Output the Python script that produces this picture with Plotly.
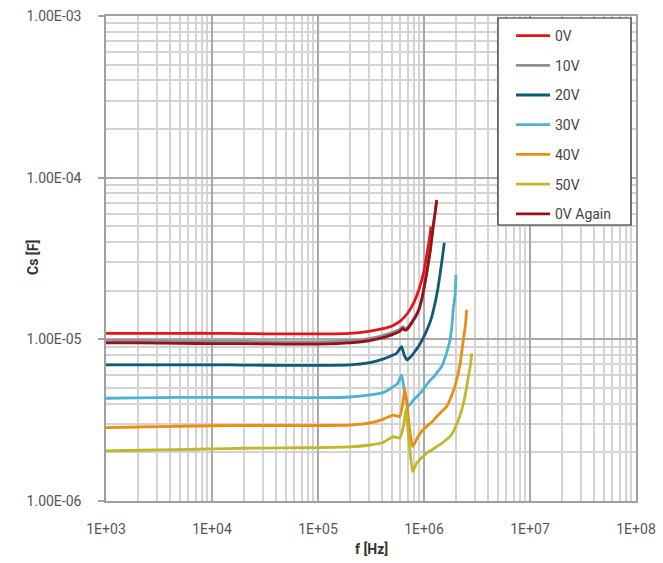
import plotly.graph_objects as go

# Frequency sweeps (Hz) and series capacitance Cs (F) for each DC bias level
f_0v = [1e3, 2e3, 5e3, 1e4, 2e4, 5e4, 1e5, 2e5, 3e5, 4e5, 5e5, 6e5, 7e5, 8e5, 9e5,
        1e6, 1.06e6, 1.12e6, 1.164e6]
cs_0v = [1.09e-5, 1.09e-5, 1.09e-5, 1.09e-5, 1.085e-5, 1.08e-5, 1.08e-5, 1.09e-5,
         1.12e-5, 1.16e-5, 1.21e-5, 1.3e-5, 1.45e-5, 1.68e-5, 2.05e-5, 2.65e-5,
         3.3e-5, 4.1e-5, 4.98e-5]

f_10v = [1e3, 2e3, 5e3, 1e4, 2e4, 5e4, 1e5, 2e5, 3e5, 4e5, 5e5, 5.9e5, 6.3e5, 6.6e5,
         7e5, 8e5, 8.8e5, 9.5e5, 1.06e6, 1.15e6, 1.22e6, 1.3e6]
cs_10v = [9.8e-6, 9.8e-6, 9.75e-6, 9.7e-6, 9.7e-6, 9.65e-6, 9.65e-6, 9.8e-6, 1.01e-5,
          1.05e-5, 1.1e-5, 1.15e-5, 1.2e-5, 1.17e-5, 1.19e-5, 1.34e-5, 1.5e-5,
          1.77e-5, 2.58e-5, 3.62e-5, 5.0e-5, 6.8e-5]

f_20v = [1e3, 2e3, 5e3, 1e4, 2e4, 5e4, 1e5, 2e5, 3e5, 4.1e5, 4.8e5, 5.5e5, 6.15e5,
         6.5e5, 6.9e5, 7.5e5, 8.3e5, 9.2e5, 1.04e6, 1.16e6, 1.27e6, 1.35e6, 1.42e6,
         1.49e6, 1.555e6]
cs_20v = [6.95e-6, 6.95e-6, 6.95e-6, 6.95e-6, 6.93e-6, 6.9e-6, 6.9e-6, 6.95e-6,
          7.15e-6, 7.55e-6, 7.85e-6, 8.2e-6, 9.0e-6, 8.0e-6, 7.45e-6, 7.8e-6, 8.5e-6,
          9.4e-6, 1.1e-5, 1.32e-5, 1.67e-5, 2.05e-5, 2.56e-5, 3.2e-5, 3.96e-5]

f_30v = [1e3, 2e3, 5e3, 1e4, 2e4, 5e4, 1e5, 2e5, 3.1e5, 4.1e5, 4.8e5, 5.6e5, 6.15e5,
         6.5e5, 7.1e5, 7.8e5, 8.5e5, 9.5e5, 1.05e6, 1.15e6, 1.25e6, 1.32e6, 1.47e6,
         1.6e6, 1.76e6, 1.83e6, 1.89e6, 1.96e6, 2.0e6]
cs_30v = [4.32e-6, 4.35e-6, 4.37e-6, 4.38e-6, 4.38e-6, 4.37e-6, 4.36e-6, 4.4e-6,
          4.53e-6, 4.68e-6, 4.95e-6, 5.3e-6, 6.0e-6, 4.9e-6, 3.85e-6, 4.15e-6,
          4.4e-6, 4.75e-6, 5.2e-6, 5.6e-6, 5.9e-6, 6.2e-6, 6.8e-6, 7.9e-6, 9.9e-6,
          1.2e-5, 1.55e-5, 1.85e-5, 2.5e-5]

f_40v = [1e3, 2e3, 5e3, 1e4, 2e4, 5e4, 1e5, 2e5, 3.1e5, 4.1e5, 5.1e5, 5.9e5, 6.3e5,
         6.6e5, 7.0e5, 7.4e5, 7.8e5, 8.5e5, 9.2e5, 1.0e6, 1.1e6, 1.2e6, 1.32e6,
         1.45e6, 1.64e6, 1.85e6, 2.03e6, 2.2e6, 2.35e6, 2.45e6, 2.53e6]
cs_40v = [2.84e-6, 2.87e-6, 2.9e-6, 2.92e-6, 2.93e-6, 2.93e-6, 2.93e-6, 2.95e-6,
          3.04e-6, 3.2e-6, 3.4e-6, 3.33e-6, 4.0e-6, 4.95e-6, 3.6e-6, 2.6e-6,
          2.17e-6, 2.4e-6, 2.63e-6, 2.8e-6, 2.96e-6, 3.1e-6, 3.33e-6, 3.55e-6,
          3.85e-6, 4.6e-6, 5.6e-6, 7.2e-6, 9.9e-6, 1.2e-5, 1.52e-5]

f_50v = [1e3, 2e3, 5e3, 1e4, 2e4, 5e4, 1e5, 2e5, 3.1e5, 4.1e5, 5.1e5, 5.9e5, 6.4e5,
         6.75e5, 7.2e5, 7.8e5, 8.5e5, 9.5e5, 1.06e6, 1.2e6, 1.32e6, 1.5e6, 1.76e6,
         2.0e6, 2.27e6, 2.45e6, 2.62e6, 2.75e6, 2.82e6]
cs_50v = [2.04e-6, 2.06e-6, 2.08e-6, 2.1e-6, 2.12e-6, 2.13e-6, 2.14e-6, 2.16e-6,
          2.22e-6, 2.3e-6, 2.5e-6, 2.45e-6, 2.9e-6, 3.7e-6, 2.4e-6, 1.52e-6,
          1.71e-6, 1.85e-6, 1.98e-6, 2.08e-6, 2.17e-6, 2.3e-6, 2.5e-6, 2.9e-6,
          3.66e-6, 4.5e-6, 5.88e-6, 7.0e-6, 8.2e-6]

f_0v_again = [1e3, 2e3, 5e3, 1e4, 2e4, 5e4, 1e5, 2e5, 3e5, 4e5, 5e5, 5.9e5, 6.3e5,
              6.6e5, 7e5, 8e5, 8.8e5, 9.5e5, 1.06e6, 1.15e6, 1.22e6, 1.28e6, 1.318e6]
cs_0v_again = [9.5e-6, 9.5e-6, 9.45e-6, 9.4e-6, 9.4e-6, 9.35e-6, 9.35e-6, 9.5e-6,
               9.8e-6, 1.02e-5, 1.07e-5, 1.12e-5, 1.17e-5, 1.14e-5, 1.16e-5, 1.32e-5,
               1.48e-5, 1.75e-5, 2.56e-5, 3.6e-5, 4.98e-5, 6.2e-5, 7.28e-5]

series_names = ["0V", "10V", "20V", "30V", "40V", "50V", "0V Again"]
series_colors = ["#e3141c", "#8a9298", "#0f5b77", "#4cb3d4", "#e98e12", "#c2b62a", "#990f14"]
series_f = [f_0v, f_10v, f_20v, f_30v, f_40v, f_50v, f_0v_again]
series_cs = [cs_0v, cs_10v, cs_20v, cs_30v, cs_40v, cs_50v, cs_0v_again]

x_tick_vals = [1e3, 1e4, 1e5, 1e6, 1e7, 1e8]
x_tick_text = ["1E+03", "1E+04", "1E+05", "1E+06", "1E+07", "1E+08"]
y_tick_vals = [1e-6, 1e-5, 1e-4, 1e-3]
y_tick_text = ["1.00E-06", "1.00E-05", "1.00E-04", "1.00E-03"]

# minor grid positions: 2..9 within every decade
x_minor = [m * 10 ** e for e in range(3, 8) for m in range(2, 10)]
y_minor = [m * 10 ** e for e in range(-6, -3) for m in range(2, 10)]

FONT = "Roboto"
MAJOR = "#a9a9a9"
MINOR = "#d3d3d3"

# plot area in pixels
PL, PR, PT, PB = 106, 636, 16, 501
PW, PH = PR - PL, PB - PT


def px(x):
    return (x - PL) / PW


def py(y):
    return (PB - y) / PH


fig = go.Figure()
for name, color, fx, cy in zip(series_names, series_colors, series_f, series_cs):
    fig.add_trace(go.Scatter(
        x=fx, y=cy, mode="lines", name=name,
        line=dict(color=color, width=2.8, shape="spline", smoothing=0.4),
        legendgroup=name,
    ))

fig.update_layout(
    width=663, height=563,
    margin=dict(l=PL, r=663 - PR, t=PT, b=563 - PB, autoexpand=False),
    paper_bgcolor="white", plot_bgcolor="white",
    font=dict(family=FONT, size=14, color="#555555"),
    showlegend=True,
    legend=dict(
        x=px(511), y=py(20), xanchor="left", yanchor="top",
        bgcolor="rgba(0,0,0,0)", borderwidth=0,
        font=dict(family=FONT, size=14, color="#444444"),
        traceorder="grouped", tracegroupgap=8.5, itemwidth=34,
    ),
    shapes=[dict(
        type="rect", xref="paper", yref="paper", layer="above",
        x0=px(498), x1=px(631), y0=py(225), y1=py(18),
        line=dict(color="#222222", width=1.2), fillcolor="white",
    )],
    annotations=[
        dict(text="<b>Cs [F]</b>", xref="paper", yref="paper",
             x=px(33), y=py(258), textangle=-90, showarrow=False,
             xanchor="center", yanchor="middle",
             font=dict(family=FONT, size=14, color="#333333")),
        dict(text="<b>f [Hz]</b>", xref="paper", yref="paper",
             x=px(371), y=py(549), showarrow=False,
             xanchor="center", yanchor="middle",
             font=dict(family=FONT, size=14, color="#333333")),
    ],
)

fig.update_xaxes(
    type="log", range=[3, 8], automargin=False,
    tickvals=x_tick_vals, ticktext=x_tick_text,
    showgrid=True, gridcolor=MAJOR, gridwidth=1.5,
    minor=dict(tickvals=x_minor, showgrid=True, gridcolor=MINOR, gridwidth=1.5, ticks=""),
    showline=True, linecolor="#a0a0a0", linewidth=1.5, mirror=True,
    ticks="", ticklabelstandoff=14,
    zeroline=False,
)
fig.update_yaxes(
    type="log", range=[-6, -3], automargin=False,
    tickvals=y_tick_vals, ticktext=y_tick_text,
    showgrid=True, gridcolor=MAJOR, gridwidth=1.5,
    minor=dict(tickvals=y_minor, showgrid=True, gridcolor=MINOR, gridwidth=1.5, ticks=""),
    showline=True, linecolor="#a0a0a0", linewidth=1.5, mirror=True,
    ticks="outside", ticklen=6, tickcolor="#a0a0a0", tickwidth=1.5,
    ticklabelstandoff=14,
    zeroline=False,
)

fig.write_html("out.html")
